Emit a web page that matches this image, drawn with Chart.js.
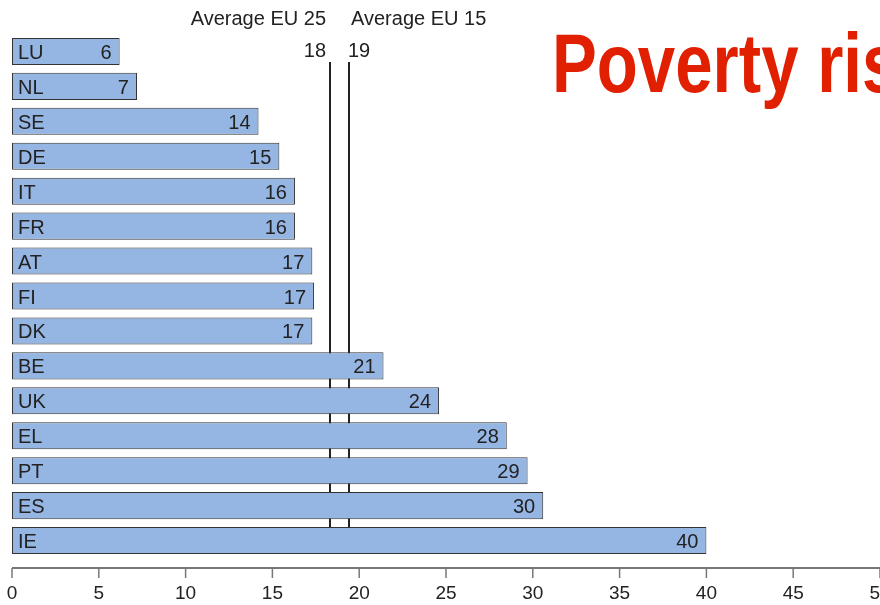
<!DOCTYPE html>
<html>
<head>
<meta charset="utf-8">
<script src="https://cdn.jsdelivr.net/npm/chart.js@4"></script>
<style>
  html, body { margin: 0; padding: 0; background: #fff; overflow: hidden; }
  #wrap { position: relative; width: 880px; height: 605px; }
  #title {
    position: absolute; left: 552px; top: 21px;
    font-family: "Liberation Sans", Arial, sans-serif; font-weight: bold;
    font-size: 84px; line-height: 84px; color: #e02000;
    transform: scaleX(0.8); transform-origin: left top; white-space: nowrap;
  }
</style>
</head>
<body>
<div id="wrap">
  <canvas id="chart" width="880" height="605"></canvas>
  <div id="title">Poverty risk</div>
</div>
<script>
// countries top to bottom
const countries = ['LU', 'NL', 'SE', 'DE', 'IT', 'FR', 'AT', 'FI', 'DK', 'BE', 'UK', 'EL', 'PT', 'ES', 'IE'];
// bar lengths
const rates = [6.2, 7.2, 14.2, 15.4, 16.3, 16.3, 17.3, 17.4, 17.3, 21.4, 24.6, 28.5, 29.7, 30.6, 40.0];
// numbers printed in the bars
const printed = [6, 7, 14, 15, 16, 16, 17, 17, 17, 21, 24, 28, 29, 30, 40];
const avgNames = ['Average EU 25', 'Average EU 15'];
const avgValues = [18.3, 19.4];
const avgPrinted = [18, 19];

const font = '"Liberation Sans", Arial, sans-serif';
const ink = '#222222';

// value numbers at the end of each bar
const barNumbers = {
    id: 'barNumbers',
    afterDatasetsDraw(chart) {
        const ctx = chart.ctx;
        const meta = chart.getDatasetMeta(0);
        ctx.save();
        ctx.font = '20px ' + font;
        ctx.fillStyle = ink;
        ctx.textAlign = 'right';
        ctx.textBaseline = 'middle';
        meta.data.forEach((bar, i) => {
            ctx.fillText(String(printed[i]), bar.x - 8, bar.y + 2);
        });
        ctx.restore();
    }
};

// the two average lines, behind the bars
const averages = {
    id: 'averages',
    beforeDatasetsDraw(chart) {
        const ctx = chart.ctx;
        const x = chart.scales.x;
        const y = chart.scales.y;
        const bottom = y.getPixelForValue(countries.length - 1);
        ctx.save();
        ctx.strokeStyle = ink;
        ctx.lineWidth = 2;
        ctx.fillStyle = ink;
        ctx.font = '20px ' + font;
        ctx.textBaseline = 'middle';
        avgValues.forEach((v, i) => {
            const px = Math.round(x.getPixelForValue(v));
            ctx.beginPath();
            ctx.moveTo(px, 62);
            ctx.lineTo(px, bottom);
            ctx.stroke();
            if (i == 0) {
                ctx.textAlign = 'right';
                ctx.fillText(avgNames[i], px - 4, 19);
                ctx.fillText(String(avgPrinted[i]), px - 4, 51);
            } else {
                ctx.textAlign = 'left';
                ctx.fillText(avgNames[i], px + 2, 19);
                ctx.fillText(String(avgPrinted[i]), px - 1, 51);
            }
        });
        ctx.restore();
    }
};

// x axis line sits a little below the bars
const xAxisLine = {
    id: 'xAxisLine',
    afterDraw(chart) {
        const ctx = chart.ctx;
        const x = chart.scales.x;
        const yy = chart.chartArea.bottom + 10;
        ctx.save();
        ctx.strokeStyle = '#777777';
        ctx.lineWidth = 2;
        ctx.beginPath();
        ctx.moveTo(x.left, yy);
        ctx.lineTo(x.right + 2, yy);
        ctx.stroke();
        ctx.lineWidth = 1.5;
        x.ticks.forEach(t => {
            const px = x.getPixelForValue(t.value);
            ctx.beginPath();
            ctx.moveTo(px, yy);
            ctx.lineTo(px, yy + 10);
            ctx.stroke();
        });
        ctx.restore();
    }
};

new Chart(document.getElementById('chart'), {
    type: 'bar',
    data: {
        labels: countries,
        datasets: [{
            data: rates,
            backgroundColor: '#95b5e3',
            borderColor: '#333333',
            borderWidth: 1,
            borderSkipped: false,
            categoryPercentage: 1,
            barPercentage: 0.775
        }]
    },
    options: {
        indexAxis: 'y',
        responsive: false,
        animation: false,
        layout: { padding: { left: 12, top: 34, right: 0, bottom: 0 } },
        plugins: { legend: { display: false }, tooltip: { enabled: false } },
        scales: {
            x: {
                min: 0, max: 50,
                grid: { display: false },
                border: { display: false },
                ticks: { stepSize: 5, padding: 16, color: ink, font: { family: font, size: 19 } },
                afterFit: (scale) => {
                    scale.height = 605 - 558;
                    scale.paddingRight = 0;
                    scale.paddingLeft = 0;
                }
            },
            y: {
                grid: { display: false },
                border: { display: false },
                ticks: { mirror: true, padding: 6, z: 1, labelOffset: 2, color: ink, font: { family: font, size: 20 } },
                afterFit: (scale) => {
                    scale.width = 0;
                }
            }
        }
    },
    plugins: [averages, barNumbers, xAxisLine]
});
</script>
</body>
</html>
